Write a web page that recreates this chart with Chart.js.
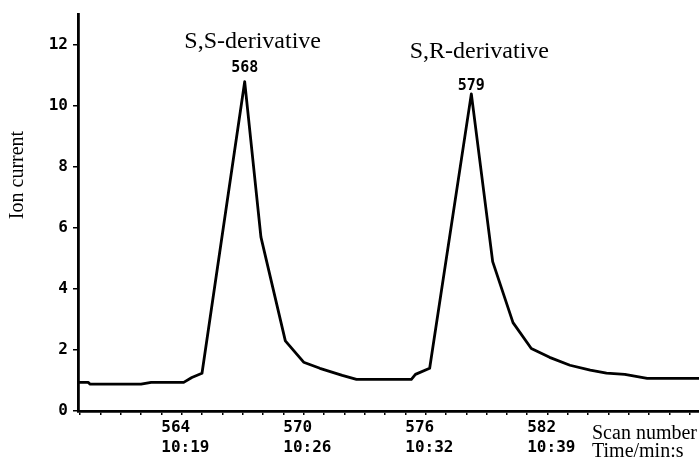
<!DOCTYPE html>
<html>
<head>
<meta charset="utf-8">
<script src="https://cdn.jsdelivr.net/npm/chart.js@4.4.0/dist/chart.umd.min.js"></script>
<style>
  body { margin: 0; background: #fff; }
  #wrap { width: 699px; height: 460px; position: relative; }
</style>
</head>
<body>
<div id="wrap"><canvas id="ionChart"></canvas></div>
<script>
// trace: scan number -> ion current
const scans = [559.95, 560.4, 560.5, 563.0, 563.5, 565.1, 565.5, 566.0, 568.1, 568.9,
  570.1, 571.0, 571.8, 572.9, 573.6, 576.3, 576.5, 577.2, 579.25, 580.3,
  581.3, 582.2, 583.1, 584.1, 585.1, 585.9, 586.8, 587.9, 590.45];
const ionCurrent = [0.94, 0.94, 0.88, 0.88, 0.94, 0.94, 1.1, 1.24, 10.8, 5.7,
  2.3, 1.6, 1.4, 1.17, 1.04, 1.04, 1.2, 1.4, 10.4, 4.9,
  2.9, 2.05, 1.76, 1.5, 1.34, 1.24, 1.2, 1.07, 1.07];

const majorScans = [564, 570, 576, 582];
const majorTimes = ["10:19", "10:26", "10:32", "10:39"];
const yTicks = [0, 2, 4, 6, 8, 10, 12];

const peakScans = [568.1, 579.25];
const peakLabels = ["568", "579"];
const peakNames = ["S,S-derivative", "S,R-derivative"];

const monoFont = "'DejaVu Sans Mono', monospace";
const serifFont = "'Liberation Serif', 'Times New Roman', serif";

const textPlugin = {
  id: "chromText",
  afterDraw(chart) {
    const { ctx } = chart;
    const x = chart.scales.x;
    const y = chart.scales.y;
    const labelGap = [14, 8];
    const nameGap = [40, 42];
    ctx.save();
    ctx.fillStyle = "#000";
    ctx.textAlign = "center";
    ctx.textBaseline = "middle";
    peakScans.forEach((s, i) => {
      const idx = scans.indexOf(s);
      const px = x.getPixelForValue(s);
      const py = y.getPixelForValue(ionCurrent[idx]);
      ctx.font = "bold 15px " + monoFont;
      ctx.fillText(peakLabels[i], px, py - labelGap[i]);
      ctx.font = "24px " + serifFont;
      ctx.fillText(peakNames[i], px + 8, py - nameGap[i]);
    });

    ctx.save();
    ctx.translate(18, 175);
    ctx.rotate(-Math.PI / 2);
    ctx.font = "20px " + serifFont;
    ctx.fillText("Ion current", 0, 0);
    ctx.restore();

    ctx.textAlign = "left";
    ctx.font = "20px " + serifFont;
    ctx.fillText("Scan number", 592, 434);
    ctx.fillText("Time/min:s", 592, 452);
    ctx.restore();
  }
};

const points = scans.map((s, i) => ({ x: s, y: ionCurrent[i] }));

const ctx = document.getElementById("ionChart");
const ionChart = new Chart(ctx, {
  type: "scatter",
  data: {
    datasets: [
      {
        data: points,
        showLine: true,
        borderColor: "#000",
        borderWidth: 2.8,
        borderJoinStyle: "round",
        pointRadius: 0,
        tension: 0,
      },
    ],
  },
  options: {
    responsive: true,
    maintainAspectRatio: false,
    animation: false,
    layout: { padding: { top: 13, right: 0, left: 0, bottom: 0 } },
    plugins: {
      legend: { display: false },
      tooltip: { enabled: false },
    },
    scales: {
      x: {
        type: "linear",
        min: 559.9,
        max: 590.45,
        afterBuildTicks: (scale) => {
          let t = [];
          for (let s = 560; s <= 590; s++) t.push({ value: s });
          scale.ticks = t;
        },
        afterFit: (scale) => { scale.height = 49; },
        grid: {
          display: true,
          drawOnChartArea: false,
          drawTicks: true,
          tickLength: 4,
          color: "#000",
          lineWidth: 1.5,
        },
        border: { display: true, color: "#000", width: 2.8 },
        ticks: {
          autoSkip: false,
          maxRotation: 0,
          align: "start",
          padding: 3,
          color: "#000",
          font: { family: monoFont, size: 16, weight: "bold", lineHeight: 1.25 },
          callback: (value) => {
            const i = majorScans.indexOf(value);
            return i >= 0 ? [String(value), majorTimes[i]] : "";
          },
        },
      },
      y: {
        min: 0,
        max: 13,
        afterBuildTicks: (scale) => {
          scale.ticks = yTicks.map((v) => ({ value: v }));
        },
        afterFit: (scale) => { scale.width = 78; },
        grid: {
          display: true,
          drawOnChartArea: false,
          drawTicks: true,
          tickLength: 5,
          color: "#000",
          lineWidth: 1.5,
        },
        border: { display: true, color: "#000", width: 2.8 },
        ticks: {
          padding: 5,
          color: "#000",
          font: { family: monoFont, size: 16, weight: "bold" },
        },
      },
    },
  },
  plugins: [textPlugin],
});
</script>
</body>
</html>
